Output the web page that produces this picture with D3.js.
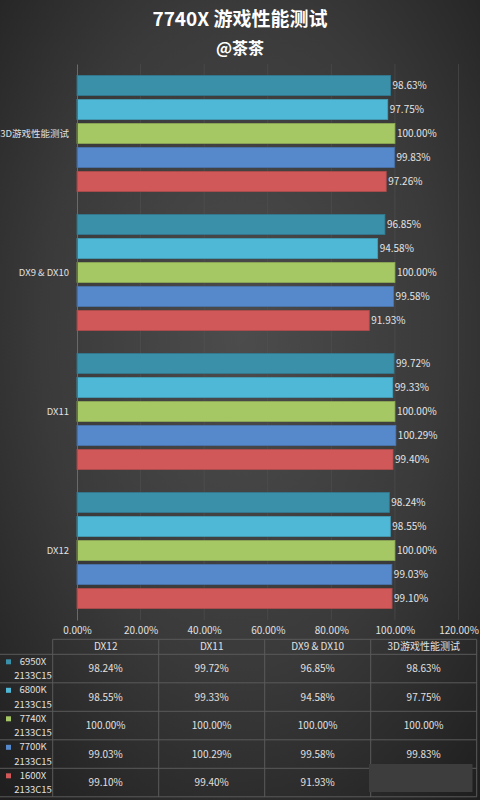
<!DOCTYPE html>
<html>
<head>
<meta charset="utf-8">
<script src="https://cdn.jsdelivr.net/npm/d3@7"></script>
<style>
  body { margin: 0; background: #2a2a2a; }
  svg { display: block; }
  text { font-family: "Noto Sans CJK SC", "Noto Sans", sans-serif; }
</style>
</head>
<body>
<svg id="chart" width="480" height="800"></svg>
<script>
// data
const categories = ["DX12", "DX11", "DX9 & DX10", "3D游戏性能测试"];
const seriesNames = ["6950X", "6800K", "7740X", "7700K", "1600X"];
const memLabel = "2133C15";
const seriesColors = ["#3a8fa9", "#4fb8d6", "#a6c864", "#5689cc", "#d05858"];
const xTicks = [0, 20, 40, 60, 80, 100, 120];

const v6950X = [98.24, 99.72, 96.85, 98.63];
const v6800K = [98.55, 99.33, 94.58, 97.75];
const v7740X = [100.00, 100.00, 100.00, 100.00];
const v7700K = [99.03, 100.29, 99.58, 99.83];
const v1600X = [99.10, 99.40, 91.93, 97.26];
const seriesValues = [v6950X, v6800K, v7740X, v7700K, v1600X];

const fmt = d => d.toFixed(2) + "%";

const svg = d3.select("#chart");
const W = 480, H = 800;

// background
const defs = svg.append("defs");
const grad = defs.append("radialGradient").attr("id", "bg")
    .attr("cx", "50%").attr("cy", "42%").attr("r", "75%");
grad.append("stop").attr("offset", "0%").attr("stop-color", "#4c4c4c");
grad.append("stop").attr("offset", "55%").attr("stop-color", "#3a3a3a");
grad.append("stop").attr("offset", "100%").attr("stop-color", "#1f1f1f");
svg.append("rect").attr("width", W).attr("height", H).attr("fill", "url(#bg)");

// titles
svg.append("text").attr("x", 240).attr("y", 26).attr("text-anchor", "middle")
    .attr("font-size", 19).attr("font-weight", "bold").attr("fill", "#ffffff")
    .text("7740X 游戏性能测试");
svg.append("text").attr("x", 240).attr("y", 54).attr("text-anchor", "middle")
    .attr("font-size", 16).attr("font-weight", "bold").attr("fill", "#ffffff")
    .text("@茶茶");

// scales
const x = d3.scaleLinear().domain([0, 120]).range([77, 458.5]);
const y0 = d3.scaleBand().domain(categories.slice().reverse()).range([64, 620]);
const y1 = d3.scaleBand().domain(seriesNames).range([0, y0.bandwidth()])
    .paddingInner(0.17).paddingOuter(0.48);

// grid
svg.append("g").selectAll("line").data(xTicks.slice(1)).join("line")
    .attr("x1", d => x(d)).attr("x2", d => x(d))
    .attr("y1", 64).attr("y2", 620)
    .attr("stroke", "#555").attr("stroke-opacity", 0.5).attr("stroke-width", 1);

// bars
const groups = svg.append("g").selectAll("g").data(categories).join("g")
    .attr("transform", d => `translate(0,${y0(d)})`);

groups.each(function(cat, ci) {
    const g = d3.select(this);
    const rows = seriesNames.map((s, si) => ({ s, si, v: seriesValues[si][ci] }));
    g.selectAll("rect").data(rows).join("rect")
        .attr("x", x(0))
        .attr("y", d => y1(d.s))
        .attr("width", d => x(d.v) - x(0))
        .attr("height", y1.bandwidth())
        .attr("fill", d => seriesColors[d.si])
        .attr("stroke", d => d3.color(seriesColors[d.si]).darker(0.4))
        .attr("stroke-width", 0.8);
    g.selectAll("text").data(rows).join("text")
        .attr("x", d => x(d.v) + 2)
        .attr("y", d => y1(d.s) + y1.bandwidth() / 2)
        .attr("dy", "0.35em")
        .attr("font-size", 10).attr("fill", "#e4e4e4")
        .text(d => fmt(d.v));
});

// category axis
const yAxis = svg.append("g").attr("transform", `translate(${x(0)},0)`)
    .call(d3.axisLeft(y0).tickSize(0).tickPadding(8));
yAxis.select(".domain").attr("stroke", "#6a6a6a");
yAxis.selectAll("text").attr("font-size", 9.5).attr("fill", "#e0e0e0");

// value axis (labels only)
const xAxis = svg.append("g").attr("transform", "translate(0,620)")
    .call(d3.axisBottom(x).tickValues(xTicks).tickFormat(d => d.toFixed(2) + "%").tickSize(0).tickPadding(7));
xAxis.select(".domain").remove();
xAxis.selectAll("text").attr("font-size", 10).attr("fill", "#e0e0e0");

// data table
const tx = d3.scaleBand().domain(categories).range([52.7, 476.7]);
const ty = d3.scaleBand().domain(seriesNames).range([654.3, 796.8]);
const headTop = 639.3;
const table = svg.append("g");
const lineColor = "#5a5a5a";

table.append("line").attr("x1", tx.range()[0]).attr("x2", tx.range()[1])
    .attr("y1", headTop).attr("y2", headTop).attr("stroke", lineColor);
table.selectAll(".hrow").data(seriesNames).join("line").attr("class", "hrow")
    .attr("x1", 0).attr("x2", tx.range()[1])
    .attr("y1", d => ty(d)).attr("y2", d => ty(d)).attr("stroke", lineColor);
table.append("line").attr("x1", 0).attr("x2", tx.range()[1])
    .attr("y1", ty.range()[1]).attr("y2", ty.range()[1]).attr("stroke", lineColor);
table.selectAll(".vcol").data(categories).join("line").attr("class", "vcol")
    .attr("x1", d => tx(d)).attr("x2", d => tx(d))
    .attr("y1", headTop).attr("y2", ty.range()[1]).attr("stroke", lineColor);
table.append("line").attr("x1", tx.range()[1]).attr("x2", tx.range()[1])
    .attr("y1", headTop).attr("y2", ty.range()[1]).attr("stroke", lineColor);

table.selectAll(".head").data(categories).join("text").attr("class", "head")
    .attr("x", d => tx(d) + tx.bandwidth() / 2).attr("y", (headTop + ty.range()[0]) / 2)
    .attr("dy", "0.35em").attr("text-anchor", "middle")
    .attr("font-size", 10).attr("fill", "#e0e0e0").text(d => d);

seriesNames.forEach((s, si) => {
    const top = ty(s);
    table.append("rect").attr("x", 6).attr("y", top + 5).attr("width", 5).attr("height", 5)
        .attr("fill", seriesColors[si]);
    table.append("text").attr("x", 33).attr("y", top + 10.5).attr("text-anchor", "middle")
        .attr("font-size", 9.5).attr("fill", "#e0e0e0").text(s);
    table.append("text").attr("x", 33).attr("y", top + 25).attr("text-anchor", "middle")
        .attr("font-size", 9.5).attr("fill", "#e0e0e0").text(memLabel);
    table.selectAll(null).data(categories).join("text")
        .attr("x", d => tx(d) + tx.bandwidth() / 2)
        .attr("y", top + ty.bandwidth() / 2)
        .attr("dy", "0.35em").attr("text-anchor", "middle")
        .attr("font-size", 10).attr("fill", "#e0e0e0")
        .text((d, ci) => fmt(seriesValues[si][ci]));
});

// grey patch covering the last cell in the source image
table.append("rect").attr("x", 369).attr("y", 764).attr("width", 103.5).attr("height", 28)
    .attr("fill", "#3d3d3d");
</script>
</body>
</html>
